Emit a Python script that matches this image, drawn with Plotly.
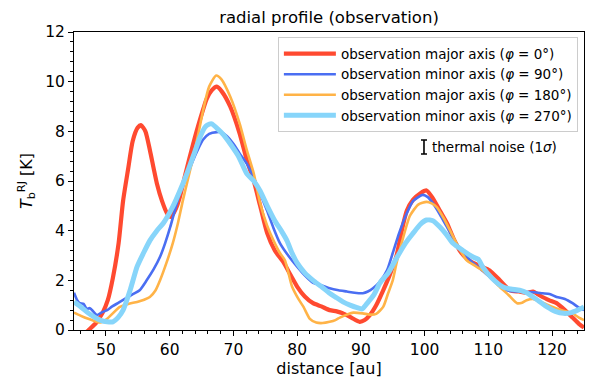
import plotly.graph_objects as go

# ---------------- data ----------------
red_x = [46.0, 47.3, 48.5, 49.5, 50.3, 51.1, 52.0, 52.7, 53.5, 54.2, 55.0, 55.5, 56.2, 56.9, 57.5, 58.0,
         58.8, 59.6, 60.2, 61.0, 61.6, 62.5, 63.7, 64.8, 65.8, 66.6, 67.4, 68.2, 69.5, 71.0, 72.1, 73.2,
         74.2, 75.3, 76.5, 77.8, 79.0, 80.0, 81.2, 82.5, 83.8, 85.1, 86.2, 87.2, 88.5, 89.8, 90.6, 91.4,
         92.4, 93.5, 94.5, 95.6, 96.5, 97.2, 98.2, 99.3, 100.3, 101.3, 102.4, 103.5, 104.5, 105.5, 106.5,
         107.6, 109.0, 110.2, 111.8, 113.4, 114.8, 116.0, 117.0, 118.0, 119.5, 120.7, 122.0, 123.2, 124.2, 125.0]
red_y = [-0.3, 0.0, 0.3, 0.7, 1.2, 2.1, 3.5, 5.2, 6.5, 7.6, 8.15, 8.25, 8.0, 7.25, 6.5, 5.9,
         5.2, 4.7, 4.55, 4.9, 5.35, 6.3, 7.5, 8.5, 9.3, 9.65, 9.8, 9.6, 9.0, 7.9, 6.85, 6.0,
         5.0, 3.9, 3.2, 2.75, 2.2, 1.75, 1.35, 1.08, 0.95, 0.8, 0.75, 0.67, 0.5, 0.33, 0.4, 0.6,
         1.0, 1.6, 2.2, 3.0, 4.1, 4.8, 5.25, 5.5, 5.62, 5.3, 4.8, 4.3, 3.7, 3.2, 2.9,
         2.7, 2.55, 2.4, 2.0, 1.6, 1.55, 1.5, 1.55, 1.4, 1.2, 1.08, 0.8, 0.5, 0.25, 0.1]

blue_x = [45.0, 45.5, 45.9, 46.5, 47.0, 47.5, 48.0, 48.6, 49.3, 50.2, 51.0, 52.0, 53.3, 54.3, 55.3, 56.4,
          57.5, 58.5, 59.3, 60.1, 60.8, 61.6, 62.7, 63.7, 64.5, 65.2, 66.2, 67.4, 68.2, 69.0, 70.0, 71.0,
          72.1, 73.1, 74.2, 75.3, 76.3, 77.3, 78.6, 80.0, 81.2, 82.5, 83.8, 85.1, 86.5, 87.8, 89.0, 90.3,
          91.1, 91.9, 93.0, 94.1, 95.0, 96.0, 97.2, 98.2, 99.7, 100.5, 101.3, 102.4, 103.5, 104.5, 105.5,
          106.5, 107.6, 108.8, 110.2, 111.5, 112.9, 114.5, 116.0, 117.2, 118.5, 119.6, 120.7, 122.0, 123.2,
          124.2, 125.0]
blue_y = [1.5, 1.2, 1.08, 1.05, 0.85, 0.88, 0.75, 0.6, 0.7, 0.8, 0.95, 1.1, 1.3, 1.45, 1.6, 2.0,
          2.45, 2.95, 3.5, 4.15, 4.8, 5.5, 6.2, 6.85, 7.3, 7.65, 7.9, 7.97, 7.95, 7.8, 7.5, 7.1,
          6.7, 6.2, 5.5, 4.8, 4.1, 3.5, 3.0, 2.55, 2.2, 1.9, 1.8, 1.68, 1.6, 1.55, 1.5, 1.48,
          1.55, 1.68, 1.95, 2.4, 3.1, 3.9, 4.7, 5.2, 5.44, 5.35, 5.1, 4.65, 4.15, 3.7, 3.3,
          3.0, 2.7, 2.45, 2.14, 1.85, 1.6, 1.55, 1.53, 1.52, 1.48, 1.45, 1.33, 1.25, 1.08,
          0.9, 0.8]

orange_x = [45.0, 46.0, 47.0, 48.0, 49.1, 50.2, 51.2, 52.2, 53.5, 54.9, 56.0, 56.9, 57.8, 58.5, 59.5,
            60.5, 61.3, 62.1, 62.9, 63.7, 64.5, 65.3, 66.2, 67.3, 68.1, 69.5, 71.0, 72.1, 73.2, 74.2,
            75.3, 76.3, 77.3, 78.1, 79.2, 80.2, 81.0, 82.0, 83.0, 84.0, 85.1, 86.0, 86.7, 87.8, 88.8,
            90.3, 91.4, 92.4, 93.5, 94.3, 95.0, 95.6, 96.5, 97.7, 99.0, 100.3, 101.1, 101.9, 103.0,
            104.0, 105.2, 106.6, 107.8, 109.1, 110.4, 111.8, 113.2, 114.5, 115.3, 116.0, 117.0, 118.0,
            119.0, 120.1, 121.5, 123.2, 124.2, 125.0]
orange_y = [0.7, 0.58, 0.47, 0.38, 0.3, 0.45, 0.7, 0.93, 1.05, 1.13, 1.22, 1.33, 1.6, 2.0, 2.7,
            3.5, 4.3, 5.24, 6.1, 6.97, 7.9, 8.9, 9.8, 10.25, 10.1, 9.4, 8.3, 7.25, 6.3, 5.1,
            4.2, 3.6, 3.1, 2.8, 1.75, 1.25, 0.93, 0.45, 0.3, 0.28, 0.33, 0.4, 0.5, 0.62, 0.7,
            0.67, 0.62, 0.65, 0.93, 1.5, 2.0, 2.7, 3.6, 4.6, 5.05, 5.16, 5.1, 4.95, 4.5,
            4.0, 3.4, 2.8, 2.6, 2.4, 2.1, 1.73, 1.4, 1.08, 1.1, 1.2, 1.25, 1.15,
            1.05, 0.93, 0.8, 0.67, 0.5, 0.4]

lblue_x = [45.0, 46.0, 47.0, 48.0, 49.1, 50.2, 51.1, 51.9, 52.7, 53.8, 54.9, 55.9, 56.9, 58.0, 59.0,
           60.5, 61.6, 62.7, 63.7, 64.8, 65.5, 65.9, 66.6, 67.4, 68.5, 69.5, 70.8, 72.1, 73.2, 74.2,
           75.3, 76.5, 77.5, 78.4, 79.2, 80.0, 81.2, 82.5, 83.8, 85.1, 86.2, 87.2, 88.3, 89.4, 90.2,
           91.0, 92.0, 93.0, 94.3, 95.6, 97.0, 98.2, 99.3, 100.3, 101.3, 102.4, 103.4, 104.4, 106.0,
           107.6, 108.4, 109.1, 110.5, 112.3, 113.5, 114.9, 116.0, 117.0, 118.0, 119.2, 120.5, 121.8,
           123.0, 124.0, 125.0]
lblue_y = [1.13, 0.95, 0.73, 0.55, 0.4, 0.33, 0.33, 0.5, 0.8, 1.6, 2.55, 3.1, 3.6, 4.0, 4.3,
           4.97, 5.6, 6.3, 7.0, 7.78, 8.15, 8.25, 8.3, 8.13, 7.85, 7.5, 7.0, 6.3, 6.0, 5.6,
           5.0, 4.4, 4.0, 3.6, 3.1, 2.7, 2.3, 2.0, 1.75, 1.48, 1.3, 1.13, 1.0, 0.9, 0.85,
           1.08, 1.4, 1.9, 2.3, 2.9, 3.5, 3.9, 4.25, 4.43, 4.4, 4.15, 3.85, 3.5, 3.2,
           2.94, 2.85, 2.54, 2.1, 1.73, 1.65, 1.6, 1.5, 1.33, 1.15, 0.93, 0.75, 0.67,
           0.7, 0.8, 0.93]

series_names = [
    "observation major axis (<i>φ</i> = 0°)",
    "observation minor axis (<i>φ</i> = 90°)",
    "observation major axis (<i>φ</i> = 180°)",
    "observation minor axis (<i>φ</i> = 270°)",
]
noise_x = [99.9]
noise_y = [7.37]
noise_sigma = [0.28]

FONT = "DejaVu Sans"

fig = go.Figure()
styles = [("#ff4a30", 4.2), ("#4a6ef2", 2.6), ("#ffb347", 2.6), ("#87d5fa", 5.0)]
for (xs, ys), name, (col, w) in zip(
        [(red_x, red_y), (blue_x, blue_y), (orange_x, orange_y), (lblue_x, lblue_y)],
        series_names, styles):
    fig.add_trace(go.Scatter(x=xs, y=ys, mode="lines", name=name,
                             line=dict(color=col, width=w, shape="spline", smoothing=0.6)))

fig.add_trace(go.Scatter(x=noise_x, y=noise_y, mode="markers", showlegend=False,
                         marker=dict(size=1, color="black", opacity=0),
                         error_y=dict(type="data", array=noise_sigma, color="black",
                                      thickness=1.6, width=3, visible=True)))
fig.add_annotation(x=noise_x[0] + 0.9, y=noise_y[0], xref="x", yref="y",
                   text="thermal noise (1<i>σ</i>)", showarrow=False, xanchor="left",
                   yanchor="middle", font=dict(family=FONT, size=13.5, color="black"))

fig.update_layout(
    width=599, height=379,
    margin=dict(l=74, r=15, t=32, b=49, autoexpand=False),
    paper_bgcolor="white", plot_bgcolor="white",
    font=dict(family=FONT, color="black"),
    title=dict(text="radial profile (observation)", x=0.5, xref="paper", xanchor="center",
               y=1 - 17 / 379, yref="container", yanchor="middle",
               font=dict(family=FONT, size=16.5, color="black")),
    legend=dict(x=0.988, y=0.982, xanchor="right", yanchor="top",
                bgcolor="rgba(255,255,255,0.8)", bordercolor="#cccccc", borderwidth=1,
                font=dict(family=FONT, size=13.5, color="black"),
                tracegroupgap=0, itemwidth=52),
    showlegend=True,
)
fig.update_xaxes(range=[45, 125], tickvals=[50, 60, 70, 80, 90, 100, 110, 120],
                 automargin=False,
                 showgrid=False, zeroline=False, showline=True, linecolor="black",
                 linewidth=1, mirror=True, ticks="outside", ticklen=5, tickcolor="black",
                 tickfont=dict(family=FONT, size=15.5, color="black"),
                 minor=dict(dtick=2, ticks="outside", ticklen=3, tickcolor="black", showgrid=False),
                 title=dict(text="distance [au]", font=dict(family=FONT, size=16, color="black"),
                            standoff=4))
fig.update_yaxes(range=[0, 12], tickvals=[0, 2, 4, 6, 8, 10, 12],
                 automargin=False,
                 showgrid=False, zeroline=False, showline=True, linecolor="black",
                 linewidth=1, mirror=True, ticks="outside", ticklen=5, tickcolor="black",
                 tickfont=dict(family=FONT, size=15.5, color="black"),
                 minor=dict(dtick=0.4, ticks="outside", ticklen=3, tickcolor="black", showgrid=False),
                 title=dict(text="<i>T</i><sub>b</sub><sup>RJ</sup> [K]",
                            font=dict(family=FONT, size=16, color="black"), standoff=8))

fig.write_html("out.html")
